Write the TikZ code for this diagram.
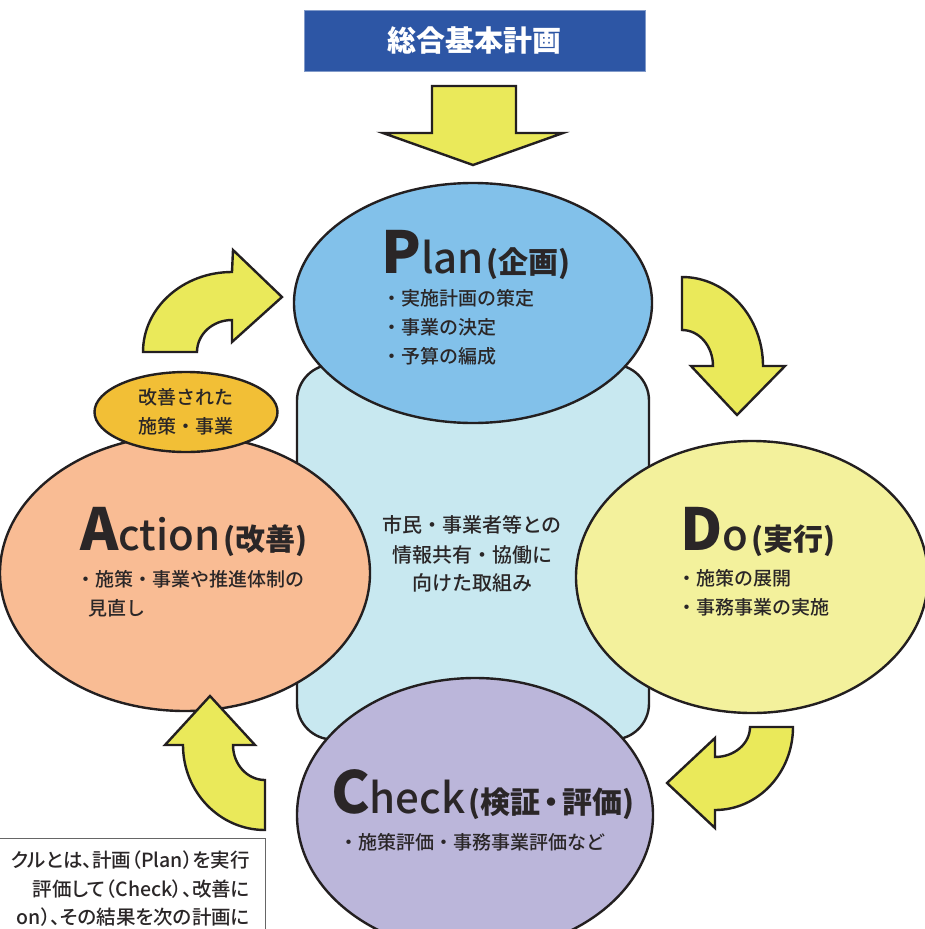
\documentclass[tikz,border=0pt]{standalone}
\usepackage{fontspec}
\setmainfont{Noto Sans CJK JP}
\newfontfamily\medf{Noto Sans CJK JP Medium}
\newfontfamily\medp{Noto Sans CJK JP Medium}[RawFeature=+palt]
\newfontfamily\heavy{Noto Sans CJK JP Black}
\usetikzlibrary{shapes.geometric}
\definecolor{titleblue}{HTML}{2D56A5}
\definecolor{arrowy}{HTML}{EAE95A}
\definecolor{planc}{HTML}{82C1EA}
\definecolor{centerc}{HTML}{C8E8F0}
\definecolor{doc}{HTML}{F3F19C}
\definecolor{actc}{HTML}{F9BC94}
\definecolor{chkc}{HTML}{BBB6DA}
\definecolor{smallc}{HTML}{F2BF36}
\definecolor{edge}{HTML}{231F20}
\definecolor{txt}{HTML}{2A2627}
\newcommand\bigltr[1]{{\heavy\fontsize{58}{58}\selectfont #1}}
\newcommand\midltr[1]{{\medf\fontsize{42}{42}\selectfont #1}}
\newcommand\hjp[1]{{\bfseries\fontsize{30}{30}\selectfont\hspace{3pt}(#1)}}
\begin{document}
\begin{tikzpicture}[x=1pt,y=-1pt,
  shapeline/.style={draw=edge, line width=2.4pt},
  yarrow/.style={shapeline, fill=arrowy, line join=miter},
  bigell/.style={ellipse, shapeline, inner sep=0pt, outer sep=0pt},
  item/.style={anchor=west, inner sep=0pt, font=\medf\fontsize{19}{19}\selectfont, text=txt},
  ctext/.style={inner sep=0pt, font=\medf\fontsize{20}{20}\selectfont, text=txt},
  headtxt/.style={anchor=base west, inner sep=0pt, text=txt},
  notetxt/.style={anchor=east, inner sep=0pt, text=txt, font=\medp\fontsize{19.5}{19.5}\selectfont}
]
\useasboundingbox (0,0) rectangle (925,929);
\clip (0,0) rectangle (925,929);
\fill[white] (0,0) rectangle (925,929);

% center rounded rectangle
\node[shapeline, fill=centerc, rounded corners=36pt, minimum width=352pt, minimum height=375pt, inner sep=0pt] (core) at (473,552) {};

% four ellipses
\node[bigell, fill=planc, minimum width=358pt, minimum height=240pt] (plan) at (473,303) {};
\node[bigell, fill=doc, minimum width=352pt, minimum height=272pt] (do) at (752,577) {};
\node[bigell, fill=actc, minimum width=370pt, minimum height=276pt] (act) at (185,573) {};
\node[bigell, fill=chkc, minimum width=356pt, minimum height=274pt] (chk) at (475,815) {};
\node[bigell, fill=smallc, minimum width=183pt, minimum height=80pt] (small) at (186,412) {};

% curved arrows
\path[yarrow] (143,352) arc[start angle=180, end angle=270, x radius=89, y radius=80]
  -- (233,250) -- (282,297) -- (232,342) -- (232,320)
  arc[start angle=270, end angle=180, x radius=35, y radius=32] -- cycle;
\path[yarrow] (682,277) arc[start angle=270, end angle=360, x radius=81, y radius=89]
  -- (785,366) -- (737,415) -- (691,366) -- (713,366)
  arc[start angle=0, end angle=-90, x radius=31, y radius=36] -- cycle;
\path[yarrow] (750,727) -- (793,727) arc[start angle=0, end angle=90, x radius=78, y radius=83]
  -- (715,828) -- (667,783) -- (715,738) -- (715,757)
  arc[start angle=90, end angle=0, x radius=35, y radius=30] -- cycle;
\path[yarrow] (265,830) arc[start angle=90, end angle=180, x radius=82, y radius=85]
  -- (165,745) -- (210,696) -- (255,745) -- (233,745)
  arc[start angle=180, end angle=90, x radius=32, y radius=35] -- cycle;

% down arrow
\path[yarrow] (432,86) -- (516,86) -- (516,133) -- (563,133) -- (473,165) -- (383,133) -- (432,133) -- cycle;

% title
\node[fill=titleblue, draw=titleblue!60, line width=0.6pt, minimum width=341pt, minimum height=61pt, inner sep=0pt,
  text=white, font=\bfseries\fontsize{29}{29}\selectfont] (title) at (474.5,40.5) {総合基本計画};

% headings
\node[headtxt] (planh) at (381,273) {\bigltr{P}\midltr{lan}\hjp{企画}};
\node[headtxt] (doh) at (680,550) {\bigltr{D}\midltr{o}\hjp{実行}};
\node[headtxt] (acth) at (80,550) {\bigltr{A}\midltr{ction}\hjp{改善}};
\node[headtxt] (chkh) at (331,813) {\bigltr{C}\midltr{heck}\hjp{検証\kern-4pt・\kern-4pt評価}};

% items
\node[item] (p1) at (382,298) {・実施計画の策定};
\node[item] (p2) at (382,327) {・事業の決定};
\node[item] (p3) at (382,356) {・予算の編成};
\node[item] (d1) at (677,578) {・施策の展開};
\node[item] (d2) at (677,607) {・事務事業の実施};
\node[item] (a1) at (76,579) {・施策・事業や推進体制の};
\node[item] (a2) at (88,608) {見直し};
\node[item] (c1) at (339,842) {・施策評価・事務事業評価など};

% center text
\node[ctext] (m1) at (472,525) {市民・事業者等との};
\node[ctext] (m2) at (472,555) {情報共有・協働に};
\node[ctext] (m3) at (472,583) {向けた取組み};

% small ellipse text
\node[ctext, font=\medf\fontsize{19}{19}\selectfont] (s1) at (186,397) {改善された};
\node[ctext, font=\medf\fontsize{19}{19}\selectfont] (s2) at (186,426) {施策・事業};

% note box
\path[fill=white, draw=black!60, line width=0.8pt] (-5,838) -- (265,838) -- (265,940);
\node[notetxt] (n1) at (250,860) {クルとは、計画（Plan）を実行};
\node[notetxt] (n2) at (250,889) {評価して（Check）、改善に};
\node[notetxt] (n3) at (250,917) {on）、その結果を次の計画に};
\end{tikzpicture}
\end{document}
